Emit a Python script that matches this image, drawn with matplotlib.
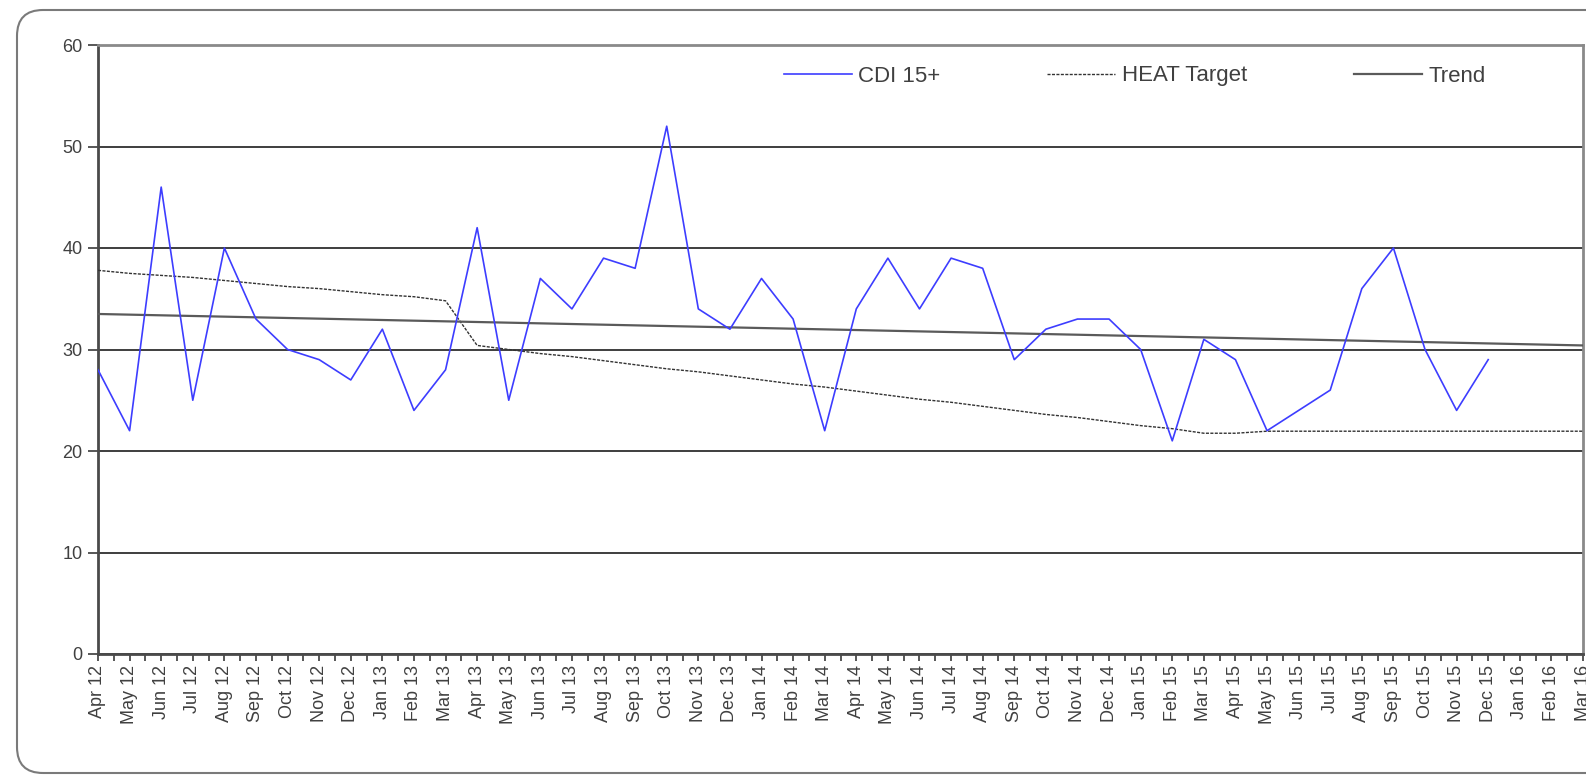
from matplotlib import pyplot as plt
from matplotlib.patches import FancyBboxPatch
from matplotlib.transforms import IdentityTransform
import numpy as np

plt.rcParams['font.family'] = ['Liberation Sans', 'DejaVu Sans']

# month labels Apr 12 .. Mar 16
month_names = ['Jan', 'Feb', 'Mar', 'Apr', 'May', 'Jun',
               'Jul', 'Aug', 'Sep', 'Oct', 'Nov', 'Dec']
labels = []
for i in range(48):
    m = (3 + i) % 12
    yr = 12 + (3 + i) // 12
    labels.append(f'{month_names[m]} {yr}')

# CDI 15+ monthly counts (Apr 12 .. Dec 15)
cdi = [28, 22, 46, 25, 40, 33, 30, 29, 27, 32, 24, 28,
       42, 25, 37, 34, 39, 38, 52, 34, 32, 37, 33, 22,
       34, 39, 34, 39, 38, 29, 32, 33, 33, 30, 21, 31,
       29, 22, 24, 26, 36, 40, 30, 24, 29]

# HEAT target (Apr 12 .. Mar 16)
heat = [37.8, 37.5, 37.3, 37.1, 36.8, 36.5, 36.2, 36.0, 35.7, 35.4, 35.2, 34.8,
        30.4, 30.0, 29.6, 29.3, 28.9, 28.5, 28.1, 27.8, 27.4, 27.0, 26.6, 26.3,
        25.9, 25.5, 25.1, 24.8, 24.4, 24.0, 23.6, 23.3, 22.9, 22.5, 22.2, 21.75,
        21.75, 21.95, 21.95, 21.95, 21.95, 21.95, 21.95, 21.95, 21.95, 21.95, 21.95, 21.95]

# trend line end points (Apr 12, Mar 16)
trend_x = [0, 47]
trend = [33.5, 30.4]

W, H = 1586, 775
fig = plt.figure(figsize=(W / 100, H / 100), dpi=100)
fig.patch.set_facecolor('white')

# rounded chart border, right side runs off the picture
fig.patches.append(FancyBboxPatch((17, 2), 1700, 763,
                                  boxstyle='round,pad=0,rounding_size=26',
                                  transform=IdentityTransform(),
                                  facecolor='none', edgecolor='#7a7a7a', lw=1.5))

ax = fig.add_axes([98 / W, (H - 654) / H, (1583 - 98) / W, (654 - 45) / H])

x = np.arange(48)
ax.plot(x[:len(cdi)], cdi, color='#3d3dff', lw=1.2, label='CDI 15+', zorder=4)
ax.plot(x, heat, color='#333333', lw=1.0, ls=(0, (2.2, 1.0)), label='HEAT Target', zorder=3)
ax.plot(trend_x, trend, color='#5a5a5a', lw=1.6, label='Trend', zorder=3)

ax.set_xlim(0, 47)
ax.set_ylim(0, 60)
ax.set_yticks(range(0, 61, 10))
ax.set_xticks(x)
ax.set_xticklabels(labels, rotation=90)
ax.set_xticks(x[:-1] + 0.5, minor=True)

ax.grid(axis='y', color='#1e1e1e', lw=1.2)
ax.set_axisbelow(True)

for side in ['left', 'bottom']:
    ax.spines[side].set_color('#4a4a4a')
    ax.spines[side].set_linewidth(2)
for side in ['top', 'right']:
    ax.spines[side].set_color('#8a8a8a')
    ax.spines[side].set_linewidth(2)

ax.tick_params(axis='y', which='major', direction='out', length=7, width=1.3,
               color='#4a4a4a', labelsize=13, labelcolor='#404040', pad=4)
ax.tick_params(axis='x', which='both', direction='out', length=5, width=1.3,
               color='#4a4a4a', labelsize=13, labelcolor='#404040', pad=3)

ax.legend(loc='center left', bbox_to_anchor=(784 / W, 1 - 76 / H),
          bbox_transform=fig.transFigure, ncol=3, frameon=False,
          fontsize=16, labelcolor='#404040', handlelength=3.05,
          handletextpad=0.3, columnspacing=4.8, borderpad=0, borderaxespad=0)

fig.savefig('out.png', dpi=100)
